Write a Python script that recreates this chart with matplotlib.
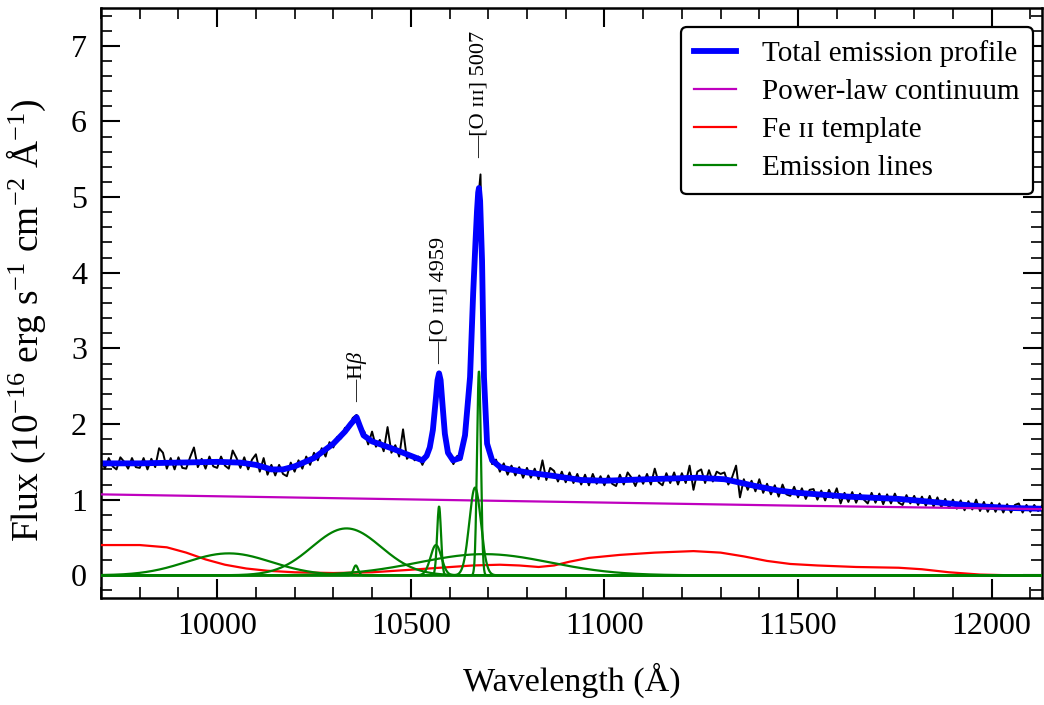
import numpy as np
import matplotlib
matplotlib.use("Agg")
import matplotlib.pyplot as plt
from matplotlib.ticker import MultipleLocator

plt.rcParams["font.family"] = ["Liberation Serif", "DejaVu Serif"]
plt.rcParams["mathtext.fontset"] = "custom"
plt.rcParams["mathtext.rm"] = "Liberation Serif"
plt.rcParams["mathtext.it"] = "Liberation Serif:italic"

# observed spectrum, sampled every 10 A from 9700 A
OBS_START = 9700
OBS_STEP = 10
OBS_FLUX = [
    1.53, 1.41, 1.55, 1.44, 1.40, 1.56, 1.50, 1.41, 1.55, 1.43,
    1.42, 1.55, 1.40, 1.54, 1.43, 1.68, 1.62, 1.41, 1.55, 1.40,
    1.56, 1.42, 1.41, 1.56, 1.69, 1.43, 1.54, 1.41, 1.57, 1.44,
    1.42, 1.57, 1.45, 1.41, 1.65, 1.55, 1.42, 1.56, 1.40, 1.53,
    1.60, 1.37, 1.55, 1.33, 1.46, 1.32, 1.46, 1.34, 1.31, 1.49,
    1.37, 1.52, 1.41, 1.57, 1.46, 1.62, 1.52, 1.68, 1.57, 1.76,
    1.69, 1.83, 1.81, 1.95, 1.93, 2.08, 2.12, 1.93, 1.90, 1.73,
    1.90, 1.70, 1.79, 1.64, 1.96, 1.62, 1.72, 1.57, 1.93, 1.54,
    1.60, 1.52, 1.57, 1.46, 1.58, 1.72, 2.08, 2.64, 2.38, 1.78,
    1.58, 1.47, 1.58, 1.53, 1.83, 2.42, 3.55, 4.75, 5.30, 2.50,
    1.68, 1.47, 1.53, 1.37, 1.48, 1.33, 1.45, 1.32, 1.43, 1.29,
    1.42, 1.29, 1.41, 1.27, 1.52, 1.26, 1.42, 1.38, 1.24, 1.37,
    1.23, 1.36, 1.22, 1.34, 1.20, 1.33, 1.19, 1.34, 1.21, 1.31,
    1.19, 1.32, 1.21, 1.18, 1.33, 1.20, 1.36, 1.29, 1.18, 1.32,
    1.21, 1.34, 1.20, 1.41, 1.23, 1.19, 1.35, 1.22, 1.36, 1.20,
    1.35, 1.22, 1.45, 1.13, 1.37, 1.40, 1.22, 1.39, 1.24, 1.37,
    1.34, 1.36, 1.20, 1.30, 1.45, 1.03, 1.27, 1.13, 1.25, 1.11,
    1.27, 1.09, 1.21, 1.07, 1.19, 1.04, 1.20, 1.07, 1.05, 1.17,
    1.03, 1.15, 1.01, 1.13, 1.14, 1.00, 1.12, 0.99, 1.13, 1.02,
    1.15, 0.95, 1.09, 0.97, 1.10, 0.96, 1.08, 1.00, 0.95, 1.09,
    0.96, 1.08, 0.94, 1.07, 0.95, 1.08, 0.96, 0.93, 1.06, 0.95,
    1.05, 0.93, 1.04, 0.92, 1.05, 0.91, 1.03, 0.90, 1.01, 0.89,
    1.00, 0.88, 0.99, 0.86, 0.98, 0.87, 1.00, 0.85, 0.97, 0.84,
    0.96, 0.84, 0.95, 0.83, 0.94, 0.83, 0.93, 0.95, 0.83, 0.93,
    0.84, 0.93, 0.85, 0.92,
]

# total emission profile
TOTAL_WAVE = [9700, 9800, 9900, 10000, 10060, 10100, 10140, 10170, 10200, 10250,
              10300, 10330, 10345, 10360, 10368, 10378, 10400, 10450, 10500, 10530,
              10541, 10549, 10557, 10565, 10569, 10573, 10577, 10582, 10588, 10596,
              10609, 10627, 10640, 10653, 10661, 10667, 10671, 10674, 10676, 10679,
              10684, 10689, 10697, 10710, 10731, 10756, 10800, 10860, 10940, 11000,
              11110, 11240, 11310, 11390, 11450, 11500, 11630, 11760, 11890, 11975,
              12050, 12130]
TOTAL_FLUX = [1.48, 1.48, 1.49, 1.50, 1.49, 1.46, 1.40, 1.40, 1.44, 1.55,
              1.74, 1.90, 2.00, 2.09, 1.98, 1.85, 1.77, 1.68, 1.58, 1.52,
              1.58, 1.69, 1.92, 2.35, 2.58, 2.67, 2.58, 2.25, 1.87, 1.62,
              1.52, 1.55, 1.85, 2.62, 3.72, 4.40, 4.82, 5.06, 5.12, 4.95,
              4.16, 2.62, 1.74, 1.52, 1.43, 1.40, 1.36, 1.32, 1.26, 1.25,
              1.27, 1.29, 1.27, 1.18, 1.12, 1.09, 1.04, 1.01, 0.95, 0.91,
              0.89, 0.88]

# power-law continuum
PL_WAVE = [9700, 10300, 10900, 11500, 12130]
PL_FLUX = [1.07, 1.02, 0.97, 0.92, 0.875]

# Fe II template
FE_WAVE = [9700, 9800, 9870, 9920, 9970, 10020, 10075, 10130, 10200, 10300,
           10400, 10490, 10575, 10660, 10730, 10780, 10830, 10870, 10910, 10960,
           11040, 11130, 11230, 11300, 11360, 11420, 11480, 11550, 11650, 11760,
           11820, 11890, 11970, 12050, 12130]
FE_FLUX = [0.40, 0.40, 0.37, 0.30, 0.21, 0.14, 0.09, 0.06, 0.04, 0.03,
           0.04, 0.07, 0.10, 0.13, 0.14, 0.13, 0.11, 0.13, 0.18, 0.23,
           0.27, 0.30, 0.32, 0.30, 0.25, 0.19, 0.15, 0.13, 0.11, 0.10,
           0.08, 0.04, 0.01, 0.0, 0.0]

# Gaussian emission-line components: centre (A), peak, sigma (A)
LINE_CENTER = [10030, 10334, 10358, 10690, 10565, 10573, 10666, 10676]
LINE_PEAK = [0.29, 0.62, 0.13, 0.28, 0.40, 0.91, 1.16, 2.70]
LINE_SIGMA = [110, 89, 6, 170, 14, 5, 15, 5]

# line markers
LABEL_TEXT = ["\u2014H$\\beta$", "\u2014[O \u026a\u026a\u026a] 4959", "\u2014[O \u026a\u026a\u026a] 5007"]
LABEL_WAVE = [10360, 10573, 10676]
LABEL_FLUX = [2.29, 2.80, 5.52]

fig = plt.figure(figsize=(10.44, 7.05), dpi=100)
ax = fig.add_axes([101 / 1044, 1 - 598 / 705, 941 / 1044, 590 / 705])

obs_wave = OBS_START + OBS_STEP * np.arange(len(OBS_FLUX))
ax.plot(obs_wave, OBS_FLUX, color="black", lw=1.4, zorder=1)
ax.plot(TOTAL_WAVE, TOTAL_FLUX, color="#0000ff", lw=4.2, solid_joinstyle="round",
        label="Total emission profile", zorder=2)
ax.plot(PL_WAVE, PL_FLUX, color="#bf00bf", lw=1.6, label="Power-law continuum", zorder=3)
ax.plot(FE_WAVE, FE_FLUX, color="#ff0000", lw=1.6, label="Fe \u026a\u026a template", zorder=3)

grid = np.linspace(9700, 12130, 3000)
for i, (c, a, s) in enumerate(zip(LINE_CENTER, LINE_PEAK, LINE_SIGMA)):
    prof = a * np.exp(-0.5 * ((grid - c) / s) ** 2)
    ax.plot(grid, prof, color="#008000", lw=1.6, zorder=4,
            label="Emission lines" if i == 0 else None)

for txt, w, f in zip(LABEL_TEXT, LABEL_WAVE, LABEL_FLUX):
    ax.text(w, f, txt, rotation=90, ha="center", va="bottom", fontsize=16, zorder=5)

ax.set_xlim(9700, 12130)
ax.set_ylim(-0.3, 7.5)
ax.xaxis.set_major_locator(MultipleLocator(500))
ax.xaxis.set_minor_locator(MultipleLocator(100))
ax.yaxis.set_major_locator(MultipleLocator(1))
ax.yaxis.set_minor_locator(MultipleLocator(0.2))
ax.tick_params(which="both", direction="in", top=True, right=True, labelsize=23)
ax.tick_params(which="major", length=14, width=1.5, pad=10)
ax.tick_params(which="minor", length=8, width=1.2)
for sp in ax.spines.values():
    sp.set_linewidth(1.8)

ax.set_xlabel("Wavelength (\u00c5)", fontsize=24.5, labelpad=16)
ax.set_ylabel("Flux (10$^{-16}$ erg s$^{-1}$ cm$^{-2}$ \u00c5$^{-1}$)", fontsize=27)
ax.yaxis.set_label_coords(-0.056, 0.471)

leg = ax.legend(loc="upper right", bbox_to_anchor=(0.9904, 0.9678), borderaxespad=0,
                fontsize=21, handlelength=1.45, labelspacing=0.4, handletextpad=0.9,
                borderpad=0.45, fancybox=True, framealpha=1, edgecolor="black")
leg.get_frame().set_linewidth(1.6)

fig.savefig("out.png", dpi=100)
